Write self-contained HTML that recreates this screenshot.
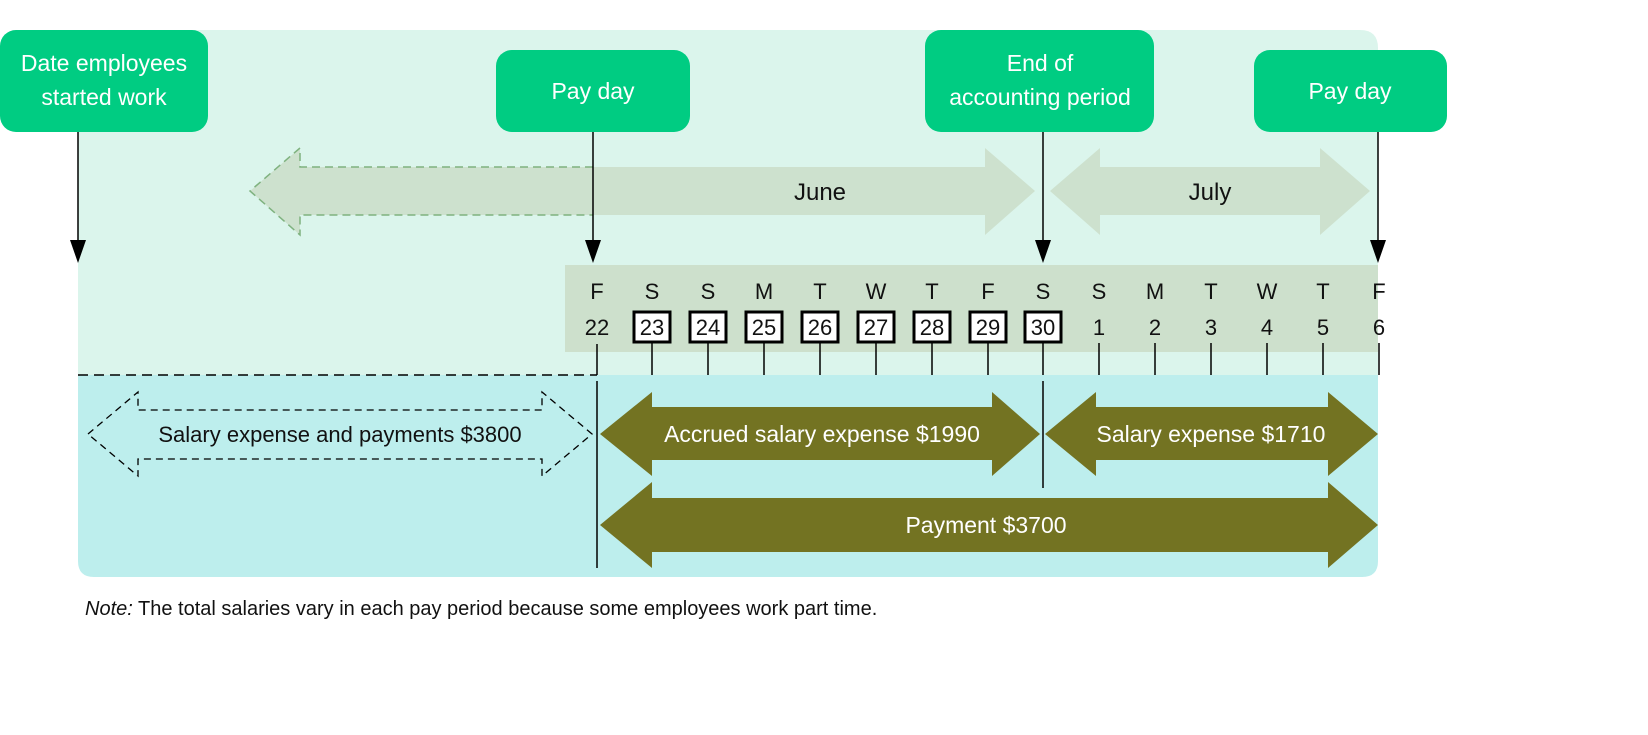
<!DOCTYPE html>
<html><head><meta charset="utf-8"><style>
html,body{margin:0;padding:0;background:#fff}
svg{display:block}
text{font-family:"Liberation Sans Narrow","Liberation Sans",sans-serif}
</style></head><body>
<svg width="1648" height="735" viewBox="0 0 1648 735" xmlns="http://www.w3.org/2000/svg">
<!-- backgrounds -->
<path d="M78 30 H1360 Q1378 30 1378 48 V375 H78 Z" fill="#dbf5ec"/>
<path d="M78 375 H1378 V561 Q1378 577 1362 577 H94 Q78 577 78 561 Z" fill="#bdeeed"/>
<!-- June arrow -->
<polygon points="250,191 300,148 300,167 985,167 985,148 1035,191 985,235 985,215 300,215 300,235" fill="#cde1ce"/>
<polyline points="593,167 300,167 300,148 250,191 300,235 300,215 593,215" fill="none" stroke="#7fb27f" stroke-width="1.5" stroke-dasharray="8,5"/>
<text x="820" y="200" font-size="24" text-anchor="middle" fill="#111">June</text>
<!-- July arrow -->
<polygon points="1050,191 1100,148 1100,167 1320,167 1320,148 1370,191 1320,235 1320,215 1100,215 1100,235" fill="#cde1ce"/>
<text x="1210" y="200" font-size="24" text-anchor="middle" fill="#111">July</text>
<!-- boxes -->
<g fill="#00cc82">
<rect x="0" y="30" width="208" height="102" rx="16"/>
<rect x="496" y="50" width="194" height="82" rx="16"/>
<rect x="925" y="30" width="229" height="102" rx="16"/>
<rect x="1254" y="50" width="193" height="82" rx="16"/>
</g>
<g fill="#fff" font-size="23" text-anchor="middle">
<text x="104" y="71">Date employees</text>
<text x="104" y="105">started work</text>
<text x="593" y="99">Pay day</text>
<text x="1040" y="71">End of</text>
<text x="1040" y="105">accounting period</text>
<text x="1350" y="99">Pay day</text>
</g>
<!-- pointer arrows -->
<g stroke="#000" stroke-width="1.5">
<line x1="78" y1="132" x2="78" y2="248"/>
<line x1="593" y1="132" x2="593" y2="248"/>
<line x1="1043" y1="132" x2="1043" y2="248"/>
<line x1="1378" y1="132" x2="1378" y2="248"/>
</g>
<g fill="#000">
<polygon points="70,240 86,240 78,263"/>
<polygon points="585,240 601,240 593,263"/>
<polygon points="1035,240 1051,240 1043,263"/>
<polygon points="1370,240 1386,240 1378,263"/>
</g>
<!-- day strip -->
<rect x="565" y="265" width="813" height="87" fill="#cde0cc"/>
<g font-size="22" text-anchor="middle" fill="#111">
<text x="597" y="299">F</text><text x="652" y="299">S</text><text x="708" y="299">S</text><text x="764" y="299">M</text><text x="820" y="299">T</text><text x="876" y="299">W</text><text x="932" y="299">T</text><text x="988" y="299">F</text><text x="1043" y="299">S</text><text x="1099" y="299">S</text><text x="1155" y="299">M</text><text x="1211" y="299">T</text><text x="1267" y="299">W</text><text x="1323" y="299">T</text><text x="1379" y="299">F</text>
</g>
<g fill="#fff" stroke="#000" stroke-width="3">
<rect x="634" y="312" width="36" height="30"/><rect x="690" y="312" width="36" height="30"/><rect x="746" y="312" width="36" height="30"/><rect x="802" y="312" width="36" height="30"/><rect x="858" y="312" width="36" height="30"/><rect x="914" y="312" width="36" height="30"/><rect x="970" y="312" width="36" height="30"/><rect x="1025" y="312" width="36" height="30"/>
</g>
<g font-size="22" text-anchor="middle" fill="#111">
<text x="597" y="335">22</text><text x="652" y="335">23</text><text x="708" y="335">24</text><text x="764" y="335">25</text><text x="820" y="335">26</text><text x="876" y="335">27</text><text x="932" y="335">28</text><text x="988" y="335">29</text><text x="1043" y="335">30</text><text x="1099" y="335">1</text><text x="1155" y="335">2</text><text x="1211" y="335">3</text><text x="1267" y="335">4</text><text x="1323" y="335">5</text><text x="1379" y="335">6</text>
</g>
<g stroke="#000" stroke-width="1.5">
<line x1="597" y1="344" x2="597" y2="375"/>
<line x1="652" y1="342" x2="652" y2="375"/><line x1="708" y1="342" x2="708" y2="375"/><line x1="764" y1="342" x2="764" y2="375"/><line x1="820" y1="342" x2="820" y2="375"/><line x1="876" y1="342" x2="876" y2="375"/><line x1="932" y1="342" x2="932" y2="375"/><line x1="988" y1="342" x2="988" y2="375"/><line x1="1043" y1="342" x2="1043" y2="375"/>
<line x1="1099" y1="343" x2="1099" y2="375"/><line x1="1155" y1="343" x2="1155" y2="375"/><line x1="1211" y1="343" x2="1211" y2="375"/><line x1="1267" y1="343" x2="1267" y2="375"/><line x1="1323" y1="343" x2="1323" y2="375"/><line x1="1379" y1="343" x2="1379" y2="375"/>
<line x1="78" y1="375" x2="597" y2="375" stroke-dasharray="10,6"/>
<line x1="597" y1="381" x2="597" y2="568"/>
<line x1="1043" y1="381" x2="1043" y2="488"/>
</g>
<!-- dashed salary arrow -->
<polygon points="88,434 138,392 138,410 542,410 542,392 592,434 542,476 542,459 138,459 138,476" fill="none" stroke="#000" stroke-width="1.3" stroke-dasharray="7,5"/>
<text x="340" y="442" font-size="22" text-anchor="middle" fill="#111">Salary expense and payments $3800</text>
<!-- olive arrows -->
<g fill="#737322">
<polygon points="600,434 652,392 652,407 992,407 992,392 1040,434 992,476 992,460 652,460 652,476"/>
<polygon points="1045,434 1096,392 1096,407 1328,407 1328,392 1378,434 1328,476 1328,460 1096,460 1096,476"/>
<polygon points="600,525 652,482 652,498 1328,498 1328,482 1378,525 1328,568 1328,552 652,552 652,568"/>
</g>
<g fill="#fff" font-size="23" text-anchor="middle">
<text x="822" y="442">Accrued salary expense $1990</text>
<text x="1211" y="442">Salary expense $1710</text>
<text x="986" y="533">Payment $3700</text>
</g>
<text x="85" y="615" font-size="20" fill="#111"><tspan font-style="italic">Note:</tspan> The total salaries vary in each pay period because some employees work part time.</text>
</svg>
</body></html>
